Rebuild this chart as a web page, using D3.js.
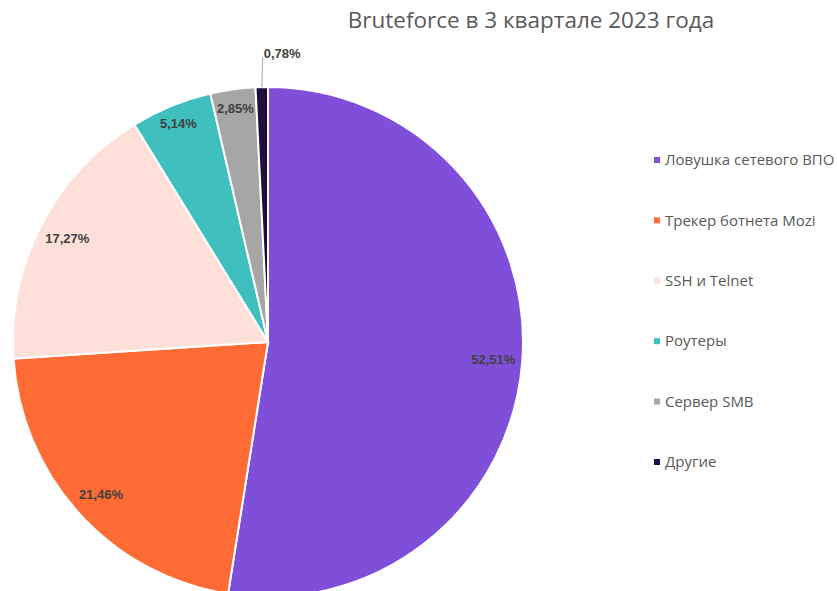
<!DOCTYPE html>
<html lang="ru">
<head>
    <meta charset="UTF-8">
    <title>Bruteforce</title>
    <script src="https://cdnjs.cloudflare.com/ajax/libs/d3/7.8.5/d3.min.js"></script>
    <style>
        body { margin: 0; background: white; }
        svg { display: block; font-family: "Liberation Sans", Arial, sans-serif; }
    </style>
</head>
<body>
<div id="chart"></div>
<script>
    const categories = ['Ловушка сетевого ВПО', 'Трекер ботнета Mozi', 'SSH и Telnet', 'Роутеры', 'Сервер SMB', 'Другие'];
    const shares = [52.51, 21.46, 17.27, 5.14, 2.85, 0.78];
    const colors = ['#804FD9', '#FF6B35', '#FDE1D8', '#40BFBF', '#A6A6A6', '#1E0F3C'];

    const width = 837, height = 591;
    const cx = 268, cy = 342, radius = 255;

    const svg = d3.select('#chart').append('svg')
        .attr('width', width)
        .attr('height', height);

    svg.append('text')
        .attr('x', 531).attr('y', 28)
        .attr('text-anchor', 'middle')
        .attr('font-family', '"Open Sans", sans-serif')
        .attr('font-size', 22.5)
        .attr('fill', '#595959')
        .text('Bruteforce в 3 квартале 2023 года');

    const data = categories.map((c, i) => ({name: c, value: shares[i], color: colors[i]}));
    const pie = d3.pie().sort(null).value(d => d.value);
    const arcs = pie(data);
    const arc = d3.arc().innerRadius(0).outerRadius(radius);
    // narrow slices get their label pushed a bit further out
    const labelRadius = d => (d.data.value > 10 ? 0.886 : 0.925) * radius;

    const g = svg.append('g').attr('transform', `translate(${cx},${cy})`);
    g.selectAll('path')
        .data(arcs)
        .enter().append('path')
        .attr('d', arc)
        .attr('fill', d => d.data.color)
        .attr('stroke', 'white')
        .attr('stroke-width', 2);

    const fmt = v => v.toFixed(2).replace('.', ',') + '%';

    arcs.forEach((d, i) => {
        const a = (d.startAngle + d.endAngle) / 2;
        if (i === arcs.length - 1) {
            // tiny last slice: leader line up to a label above the pie
            const x0 = Math.sin(a) * radius, y0 = -Math.cos(a) * radius;
            g.append('polyline')
                .attr('points', `${x0},${y0} ${x0 + 1},${y0 - 30}`)
                .attr('fill', 'none')
                .attr('stroke', '#a6a6a6')
                .attr('stroke-width', 1);
            g.append('text')
                .attr('x', x0 + 2).attr('y', y0 - 29)
                .attr('font-size', 13).attr('font-weight', 'bold')
                .attr('fill', '#404040')
                .text(fmt(d.data.value));
            return;
        }
        const r = labelRadius(d);
        g.append('text')
            .attr('x', Math.sin(a) * r).attr('y', -Math.cos(a) * r)
            .attr('dy', '0.35em')
            .attr('text-anchor', 'middle')
            .attr('font-size', 13).attr('font-weight', 'bold')
            .attr('fill', '#404040')
            .text(fmt(d.data.value));
    });

    const legendY = d3.scalePoint().domain(categories).range([160, 462]);
    const item = svg.append('g').selectAll('g')
        .data(data)
        .enter().append('g')
        .attr('transform', d => `translate(654,${legendY(d.name)})`);
    item.append('rect')
        .attr('x', 0).attr('y', -3)
        .attr('width', 6).attr('height', 6)
        .attr('fill', d => d.color);
    item.append('text')
        .attr('x', 11).attr('dy', '0.35em')
        .attr('font-family', '"Open Sans", sans-serif')
        .attr('font-size', 15)
        .attr('fill', '#595959')
        .text(d => d.name);
</script>
</body>
</html>
